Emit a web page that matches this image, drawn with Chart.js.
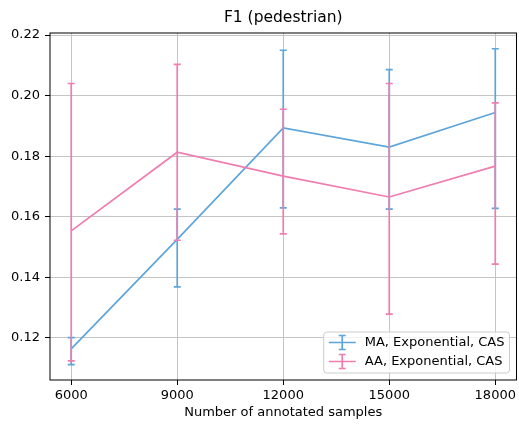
<!DOCTYPE html>
<html>
<head>
<meta charset="utf-8">
<script src="https://cdn.jsdelivr.net/npm/chart.js@4.4.1/dist/chart.umd.min.js"></script>
<style>
  html, body { margin: 0; padding: 0; background: #fff; }
  #wrap { width: 519px; height: 424px; }
</style>
</head>
<body>
<div id="wrap"><canvas id="f1Chart" width="519" height="424"></canvas></div>
<script>
const samples = [6000, 9000, 12000, 15000, 18000];
const xTicks = [6000, 9000, 12000, 15000, 18000];
const yTicks = [0.12, 0.14, 0.16, 0.18, 0.20, 0.22];

// MA, Exponential, CAS
const maMean = [0.1163, 0.1525, 0.1893, 0.1830, 0.1944];
const maLow  = [0.1111, 0.1368, 0.1629, 0.1625, 0.1627];
const maHigh = [0.1200, 0.1625, 0.2150, 0.2086, 0.2155];

// AA, Exponential, CAS
const aaMean = [0.1553, 0.1813, 0.1734, 0.1665, 0.1767];
const aaLow  = [0.1123, 0.1522, 0.1543, 0.1278, 0.1443];
const aaHigh = [0.2040, 0.2103, 0.1955, 0.2040, 0.1976];

const FONT = "'DejaVu Sans', sans-serif";
const BLUE = '#5da5da';
const PINK = '#f17cb0';
const LW = 1.7;

function toPoints(means) {
  return samples.map((s, i) => ({ x: s, y: means[i] }));
}

// error bars drawn right after their own line, so pink sits on top of blue
const errorBars = {
  id: 'errorBars',
  afterDatasetDraw(chart, args) {
    const ds = chart.data.datasets[args.index];
    const { ctx, chartArea } = chart;
    const xs = chart.scales.x, ys = chart.scales.y;
    ctx.save();
    ctx.beginPath();
    ctx.rect(chartArea.left, chartArea.top, chartArea.right - chartArea.left, chartArea.bottom - chartArea.top);
    ctx.clip();
    ctx.strokeStyle = ds.borderColor;
    ctx.lineWidth = LW;
    samples.forEach((s, i) => {
      const px = xs.getPixelForValue(s);
      const lo = ys.getPixelForValue(ds.errLow[i]);
      const hi = ys.getPixelForValue(ds.errHigh[i]);
      ctx.beginPath();
      ctx.moveTo(px, lo); ctx.lineTo(px, hi);
      ctx.moveTo(px - 3.5, lo); ctx.lineTo(px + 3.5, lo);
      ctx.moveTo(px - 3.5, hi); ctx.lineTo(px + 3.5, hi);
      ctx.stroke();
    });
    ctx.restore();
  }
};

// frame, title and the inside legend (matplotlib style)
const decorations = {
  id: 'decorations',
  afterDraw(chart) {
    const { ctx, chartArea: a } = chart;
    ctx.save();
    ctx.strokeStyle = '#000';
    ctx.lineWidth = 1;
    ctx.strokeRect(a.left, a.top, a.right - a.left, a.bottom - a.top);

    ctx.fillStyle = '#000';
    ctx.font = '15.5px ' + FONT;
    ctx.textAlign = 'center';
    ctx.textBaseline = 'middle';
    ctx.fillText('F1 (pedestrian)', (a.left + a.right) / 2, 18);

    // legend, lower right
    const sets = [chart.data.datasets[0], chart.data.datasets[1]];
    ctx.font = '13px ' + FONT;
    const textW = Math.max(...sets.map(d => ctx.measureText(d.label).width));
    const right = a.right - 7, bottom = a.bottom - 7;
    const left = right - 5 - textW - 41;
    const top = bottom - 41;
    ctx.beginPath();
    ctx.roundRect(left, top, right - left, bottom - top, 3);
    ctx.fillStyle = 'rgba(255,255,255,0.8)';
    ctx.fill();
    ctx.strokeStyle = '#cccccc';
    ctx.stroke();
    sets.forEach((d, i) => {
      const cy = top + 10.5 + i * 19;
      const x0 = left + 5, x1 = left + 32, cx = (x0 + x1) / 2;
      ctx.strokeStyle = d.borderColor;
      ctx.lineWidth = LW;
      ctx.beginPath();
      ctx.moveTo(x0, cy); ctx.lineTo(x1, cy);
      ctx.moveTo(cx, cy - 7); ctx.lineTo(cx, cy + 7);
      ctx.moveTo(cx - 3.5, cy - 7); ctx.lineTo(cx + 3.5, cy - 7);
      ctx.moveTo(cx - 3.5, cy + 7); ctx.lineTo(cx + 3.5, cy + 7);
      ctx.stroke();
      ctx.fillStyle = '#000';
      ctx.textAlign = 'left';
      ctx.textBaseline = 'middle';
      ctx.fillText(d.label, left + 41, cy);
    });
    ctx.restore();
  }
};

new Chart(document.getElementById('f1Chart').getContext('2d'), {
  type: 'line',
  data: {
    datasets: [{
      label: 'MA, Exponential, CAS',
      data: toPoints(maMean),
      errLow: maLow,
      errHigh: maHigh,
      borderColor: BLUE,
      backgroundColor: BLUE,
      borderWidth: LW,
      pointRadius: 0,
      tension: 0,
      order: 1
    }, {
      label: 'AA, Exponential, CAS',
      data: toPoints(aaMean),
      errLow: aaLow,
      errHigh: aaHigh,
      borderColor: PINK,
      backgroundColor: PINK,
      borderWidth: LW,
      pointRadius: 0,
      tension: 0,
      order: 0
    }]
  },
  options: {
    responsive: false,
    animation: false,
    devicePixelRatio: 1,
    layout: { padding: { top: 33, right: 1, left: 0, bottom: 0 } },
    plugins: {
      legend: { display: false },
      title: { display: false },
      tooltip: { enabled: false }
    },
    scales: {
      x: {
        type: 'linear',
        min: 5400,
        max: 18600,
        afterBuildTicks: (s) => { s.ticks = xTicks.map(v => ({ value: v })); },
        afterFit: (s) => { s.height = 44; },
        grid: { color: '#c4c4c4', lineWidth: 1, tickColor: '#000', tickLength: 5, drawTicks: true },
        border: { display: false },
        ticks: {
          color: '#000', font: { family: FONT, size: 13 }, padding: 3,
          maxRotation: 0, autoSkip: false,
          callback: (v) => String(v)
        },
        title: {
          display: true, text: 'Number of annotated samples', color: '#000',
          font: { family: FONT, size: 13 }, padding: { top: 0, bottom: 4 }
        }
      },
      y: {
        type: 'linear',
        min: 0.1060,
        max: 0.2207,
        afterBuildTicks: (s) => { s.ticks = yTicks.map(v => ({ value: v })); },
        afterFit: (s) => { s.width = 50; },
        grid: { color: '#c4c4c4', lineWidth: 1, tickColor: '#000', tickLength: 5, drawTicks: true },
        border: { display: false },
        ticks: {
          color: '#000', font: { family: FONT, size: 13 }, padding: 5,
          callback: (v) => v.toFixed(2)
        }
      }
    }
  },
  plugins: [errorBars, decorations]
});
</script>
</body>
</html>
